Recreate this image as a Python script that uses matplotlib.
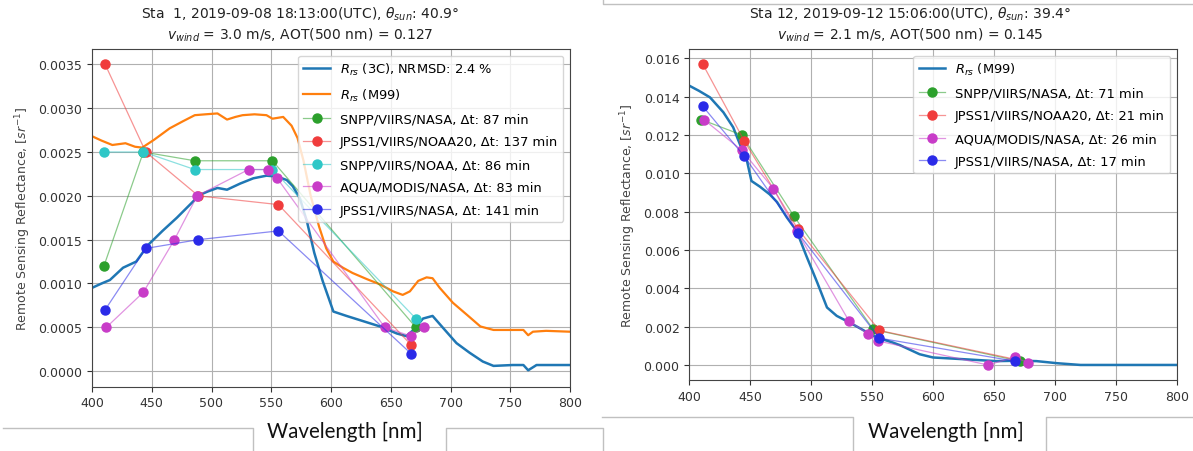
import matplotlib
matplotlib.use('Agg')
import matplotlib.pyplot as plt
from matplotlib.lines import Line2D

W, H = 1193, 452

# ---- Sta 1 (left panel) ----
wl_3c = [400, 408, 415, 426, 437, 447, 459, 471, 482, 490, 497, 505, 513, 524,
         535, 546, 555, 563, 568, 574, 580, 586, 593, 602, 613, 627, 641, 655,
         663, 669, 677, 685, 694, 705, 716, 727, 736, 752, 761, 765, 772, 785, 800]
rrs_3c = [0.00095, 0.00100, 0.00104, 0.00118, 0.00125, 0.00144, 0.00160, 0.00175,
          0.00190, 0.00201, 0.00205, 0.00209, 0.00207, 0.00214, 0.00220, 0.00223,
          0.00222, 0.00218, 0.00211, 0.00197, 0.00170, 0.00135, 0.00103, 0.00068,
          0.00063, 0.00057, 0.00051, 0.00043, 0.00040, 0.00047, 0.00060, 0.00063,
          0.00049, 0.00032, 0.00021, 0.00011, 0.00006, 0.00007, 0.00007, 0.00001,
          0.00007, 0.00007, 0.00007]
wl_m99_1 = [400, 408, 417, 428, 436, 442, 452, 465, 476, 486, 495, 505, 513, 520,
            526, 536, 546, 551, 560, 567, 572, 577, 583, 590, 596, 602, 610, 618,
            630, 641, 652, 660, 666, 673, 680, 685, 691, 702, 714, 725, 736, 750,
            761, 765, 769, 780, 800]
rrs_m99_1 = [0.00268, 0.00263, 0.00258, 0.00260, 0.00256, 0.00255, 0.00264, 0.00277,
             0.00285, 0.00292, 0.00293, 0.00294, 0.00287, 0.00290, 0.00292, 0.00293,
             0.00292, 0.00288, 0.00290, 0.00280, 0.00266, 0.00240, 0.00200, 0.00165,
             0.00140, 0.00125, 0.00118, 0.00112, 0.00105, 0.00099, 0.00091, 0.00087,
             0.00091, 0.00103, 0.00107, 0.00106, 0.00095, 0.00078, 0.00064, 0.00051,
             0.00047, 0.00047, 0.00047, 0.00041, 0.00045, 0.00046, 0.00045]

wl_snpp = [410, 443, 486, 551, 671]
wl_jpss = [411, 445, 489, 556, 667]
wl_modis = [412, 443, 469, 488, 531, 547, 555, 645, 667, 678]

s1_snpp_nasa = [0.0012, 0.0025, 0.0024, 0.0024, 0.0005]
s1_jpss_noaa = [0.0035, 0.0025, 0.0020, 0.0019, 0.0003]
s1_snpp_noaa = [0.0025, 0.0025, 0.0023, 0.0023, 0.0006]
s1_aqua_nasa = [0.0005, 0.0009, 0.0015, 0.0020, 0.0023, 0.0023, 0.0022, 0.0005, 0.0004, 0.0005]
s1_jpss_nasa = [0.0007, 0.0014, 0.0015, 0.0016, 0.0002]

# ---- Sta 12 (right panel) ----
wl_m99_12 = [400, 408, 417, 428, 436, 442, 447, 451, 458, 466, 472, 480, 488, 496,
             505, 513, 521, 532, 546, 554, 567, 573, 589, 600, 625, 652, 671, 685,
             702, 721, 750, 800]
rrs_m99_12 = [0.01457, 0.01430, 0.01396, 0.01318, 0.01240, 0.01144, 0.01074, 0.00960,
              0.00930, 0.00890, 0.00850, 0.00770, 0.00700, 0.00570, 0.00430, 0.00300,
              0.00256, 0.00220, 0.00170, 0.00143, 0.00117, 0.00103, 0.00056, 0.00039,
              0.00030, 0.00020, 0.00022, 0.00020, 0.00009, 0.00000, 0.00000, 0.00000]

s12_snpp_nasa = [0.0128, 0.0120, 0.00775, 0.00185, 0.0002]
s12_jpss_noaa = [0.0157, 0.0117, 0.0071, 0.0018, 0.0003]
s12_aqua_nasa = [0.0128, 0.0112, 0.0092, 0.0070, 0.0023, 0.0016, 0.00125, 0.0000, 0.0004, 0.00012]
s12_jpss_nasa = [0.0135, 0.0109, 0.0069, 0.0014, 0.0002]

C_GREEN = '#2ca02c'
C_RED = '#f03c3c'
C_CYAN = '#2ec7c7'
C_MAG = '#c83cc8'
C_BLUE = '#2a2ae8'

plt.rcParams['font.size'] = 9


def sat(ax, x, y, c, label):
    r, g, b = matplotlib.colors.to_rgb(c)
    ax.plot(x, y, '-o', color=(r, g, b, 0.55), lw=0.9, ms=6.5,
            mfc=c, mec=c, label=label)


def style(ax, ylim, yticks, fmt):
    ax.set_xlim(400, 800)
    ax.set_ylim(*ylim)
    ax.set_yticks(yticks)
    ax.set_yticklabels([fmt.format(v) for v in yticks])
    ax.set_xticks(range(400, 801, 50))
    ax.grid(True, color='#b0b0b0', lw=0.8)
    ax.tick_params(labelsize=9, colors='#333333')
    for s in ax.spines.values():
        s.set_color('#444444')
    ax.set_ylabel('Remote Sensing Reflectance, [$sr^{-1}$]', fontsize=9,
                  color='#444444')
    ax.legend(loc='upper right', fontsize=9.4, labelspacing=0.75)


def title(xc, line1, line2):
    fig.text(xc / W, 1 - 14 / H, line1, ha='center', va='center',
             fontsize=10, color='#222222')
    fig.text(xc / W, 1 - 35 / H, line2, ha='center', va='center',
             fontsize=10, color='#222222')


fig = plt.figure(figsize=(W / 100, H / 100), dpi=100)

ax1 = fig.add_axes([92 / W, 1 - 387.5 / H, 478 / W, 337.5 / H])
ax1.plot(wl_3c, rrs_3c, color='#1f77b4', lw=1.8,
         label='$R_{rs}$ (3C), NRMSD: 2.4 %')
ax1.plot(wl_m99_1, rrs_m99_1, color='#ff7f0e', lw=1.6, label='$R_{rs}$ (M99)')
sat(ax1, wl_snpp, s1_snpp_nasa, C_GREEN, 'SNPP/VIIRS/NASA, Δt: 87 min')
sat(ax1, wl_jpss, s1_jpss_noaa, C_RED, 'JPSS1/VIIRS/NOAA20, Δt: 137 min')
sat(ax1, wl_snpp, s1_snpp_noaa, C_CYAN, 'SNPP/VIIRS/NOAA, Δt: 86 min')
sat(ax1, wl_modis, s1_aqua_nasa, C_MAG, 'AQUA/MODIS/NASA, Δt: 83 min')
sat(ax1, wl_jpss, s1_jpss_nasa, C_BLUE, 'JPSS1/VIIRS/NASA, Δt: 141 min')
style(ax1, (-0.000175, 0.003675), [i * 0.0005 for i in range(8)], '{:.4f}')
title(300, 'Sta  1, 2019-09-08 18:13:00(UTC), $\\theta_{sun}$: 40.9°',
      '$v_{wind}$ = 3.0 m/s, AOT(500 nm) = 0.127')

ax2 = fig.add_axes([689.3 / W, 1 - 381 / H, 487.4 / W, 331 / H])
ax2.plot(wl_m99_12, rrs_m99_12, color='#1f77b4', lw=1.8, label='$R_{rs}$ (M99)')
sat(ax2, wl_snpp, s12_snpp_nasa, C_GREEN, 'SNPP/VIIRS/NASA, Δt: 71 min')
sat(ax2, wl_jpss, s12_jpss_noaa, C_RED, 'JPSS1/VIIRS/NOAA20, Δt: 21 min')
sat(ax2, wl_modis, s12_aqua_nasa, C_MAG, 'AQUA/MODIS/NASA, Δt: 26 min')
sat(ax2, wl_jpss, s12_jpss_nasa, C_BLUE, 'JPSS1/VIIRS/NASA, Δt: 17 min')
style(ax2, (-0.000785, 0.016485), [i * 0.002 for i in range(9)], '{:.3f}')
title(910, 'Sta 12, 2019-09-12 15:06:00(UTC), $\\theta_{sun}$: 39.4°',
      '$v_{wind}$ = 2.1 m/s, AOT(500 nm) = 0.145')

# x labels belong to the surrounding document, not the plots
fig.text(345 / W, 1 - 432 / H, 'Wavelength [nm]', family='Lato', fontsize=14.8,
         ha='center', va='center', color='#111111')
fig.text(946 / W, 1 - 432 / H, 'Wavelength [nm]', family='Lato', fontsize=14.8,
         ha='center', va='center', color='#111111')

# thin frame lines of the page layout
frames = [
    [(3, 429), (253, 429), (253, 452)],
    [(446, 452), (446, 429), (603, 429), (603, 452)],
    [(603, 0), (603, 5), (1193, 5)],
    [(602, 418), (853, 418), (853, 452)],
    [(1046, 452), (1046, 418), (1193, 418)],
]
for pts in frames:
    xs = [p[0] / W for p in pts]
    ys = [1 - p[1] / H for p in pts]
    fig.add_artist(Line2D(xs, ys, transform=fig.transFigure, color='#c0c0c0',
                          lw=1))

fig.savefig('out.png', dpi=100)
